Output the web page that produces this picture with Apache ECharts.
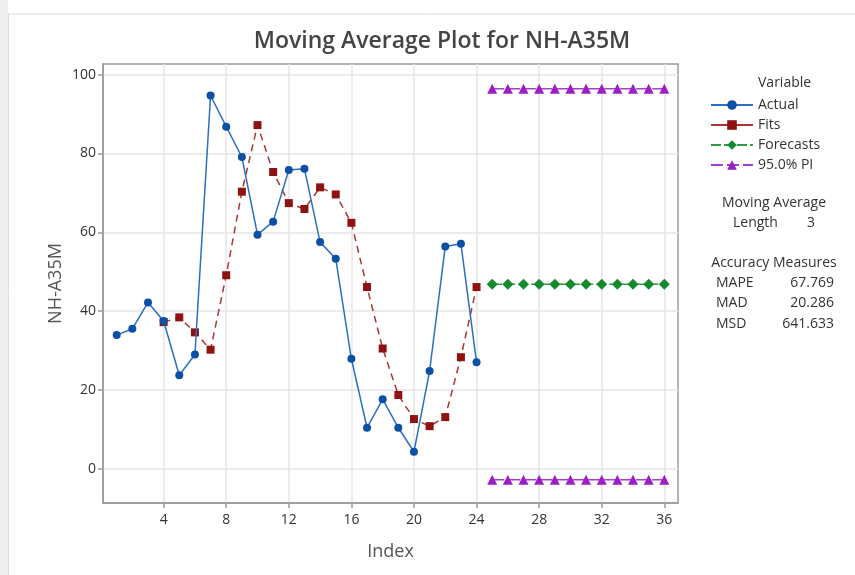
<!DOCTYPE html>
<html><head><meta charset="utf-8">
<script src="https://cdn.jsdelivr.net/npm/echarts@6/dist/echarts.min.js"></script>
<style>html,body{margin:0;padding:0;background:#fff;}#c{width:855px;height:575px;}</style>
</head><body><div id="c"></div>
<script>
// ---- data ----
const actualIndex = [1,2,3,4,5,6,7,8,9,10,11,12,13,14,15,16,17,18,19,20,21,22,23,24];
const actualValues = [33.9,35.5,42.2,37.5,23.7,29.0,94.7,86.8,79.1,59.4,62.7,75.8,76.1,57.5,53.3,27.9,10.4,17.6,10.4,4.3,24.8,56.4,57.1,27.0];
const fitsIndex = [4,5,6,7,8,9,10,11,12,13,14,15,16,17,18,19,20,21,22,23,24];
const fitsValues = [37.2,38.4,34.6,30.2,49.1,70.3,87.2,75.3,67.4,65.9,71.4,69.6,62.4,46.1,30.5,18.7,12.6,10.8,13.1,28.3,46.1];
const forecastIndex = [25,26,27,28,29,30,31,32,33,34,35,36];
const forecastValues = [46.8,46.8,46.8,46.8,46.8,46.8,46.8,46.8,46.8,46.8,46.8,46.8];
const piUpperValues = [96.4,96.4,96.4,96.4,96.4,96.4,96.4,96.4,96.4,96.4,96.4,96.4];
const piLowerValues = [-2.8,-2.8,-2.8,-2.8,-2.8,-2.8,-2.8,-2.8,-2.8,-2.8,-2.8,-2.8];
const xTicks = [4,8,12,16,20,24,28,32,36];
const yTicks = [0,20,40,60,80,100];
const accuracyNames = ['MAPE','MAD','MSD'];
const accuracyValues = ['67.769','20.286','641.633'];
const maLength = '3';

const FONT = "'Open Sans', 'Noto Sans', sans-serif";
const zip = (xs, ys) => xs.map((x, i) => [x, ys[i]]);

const chart = echarts.init(document.getElementById('c'), null, {renderer: 'canvas'});

const graphics = [
  {type: 'rect', shape: {x: 0, y: 0, width: 8, height: 575}, style: {fill: '#eeeeee'}, silent: true, z: -10},
  {type: 'line', shape: {x1: 8, y1: 14, x2: 855, y2: 14}, style: {stroke: '#dddddd', lineWidth: 1}, silent: true},
  {type: 'line', shape: {x1: 8.5, y1: 14, x2: 8.5, y2: 575}, style: {stroke: '#dddddd', lineWidth: 1}, silent: true},
  {type: 'text', x: 758, y: 83, style: {text: 'Variable', font: '14px ' + FONT, fill: '#333', textVerticalAlign: 'middle'}},
  {type: 'text', x: 774, y: 203, style: {text: 'Moving Average', font: '14px ' + FONT, fill: '#333', textAlign: 'center', textVerticalAlign: 'middle'}},
  {type: 'text', x: 733, y: 223, style: {text: 'Length', font: '14px ' + FONT, fill: '#333', textVerticalAlign: 'middle'}},
  {type: 'text', x: 815, y: 223, style: {text: maLength, font: '14px ' + FONT, fill: '#333', textAlign: 'right', textVerticalAlign: 'middle'}},
  {type: 'text', x: 774, y: 263, style: {text: 'Accuracy Measures', font: '14px ' + FONT, fill: '#333', textAlign: 'center', textVerticalAlign: 'middle'}}
];
accuracyNames.forEach((n, i) => {
  const y = 283 + i * 20.5;
  graphics.push({type: 'text', x: 716, y: y, style: {text: n, font: '14px ' + FONT, fill: '#333', textVerticalAlign: 'middle'}});
  graphics.push({type: 'text', x: 834, y: y, style: {text: accuracyValues[i], font: '14px ' + FONT, fill: '#333', textAlign: 'right', textVerticalAlign: 'middle'}});
});

const option = {
  animation: false,
  backgroundColor: '#ffffff',
  title: {
    text: 'Moving Average Plot for NH-A35M',
    left: 437, top: 25, textAlign: 'center',
    textStyle: {fontFamily: FONT, fontSize: 23, fontWeight: 600, color: '#444444'}
  },
  grid: {left: 103, top: 64, right: 177, bottom: 72, show: true, borderColor: '#9a9a9a', borderWidth: 1.5, backgroundColor: 'transparent'},
  xAxis: {
    type: 'value', min: 0.125, max: 36.875,
    name: 'Index', nameLocation: 'middle', nameGap: 40,
    nameTextStyle: {fontFamily: FONT, fontSize: 18, color: '#555'},
    axisLine: {show: true, onZero: false, lineStyle: {color: '#9a9a9a', width: 1.5}},
    axisTick: {show: true, length: 5, customValues: xTicks, lineStyle: {color: '#9a9a9a', width: 1.5}},
    axisLabel: {customValues: xTicks, fontFamily: FONT, fontSize: 14, color: '#333', margin: 10},
    splitLine: {show: true, lineStyle: {color: '#e6e6e6', width: 1.5}}
  },
  yAxis: {
    type: 'value', min: -8.7, max: 102.7,
    name: 'NH-A35M', nameLocation: 'middle', nameGap: 38, nameRotate: 90, nameMoveOverlap: false,
    nameTextStyle: {fontFamily: FONT, fontSize: 18, color: '#555'},
    axisLine: {show: true, onZero: false, lineStyle: {color: '#9a9a9a', width: 1.5}},
    axisTick: {show: true, length: 5, customValues: yTicks, lineStyle: {color: '#9a9a9a', width: 1.5}},
    axisLabel: {customValues: yTicks, fontFamily: FONT, fontSize: 14, color: '#333', margin: 7},
    splitLine: {show: true, lineStyle: {color: '#e6e6e6', width: 1.5}}
  },
  legend: {
    orient: 'vertical', left: 705, top: 93, itemWidth: 42, itemHeight: 12, itemGap: 6,
    selectedMode: false,
    textStyle: {fontFamily: FONT, fontSize: 14, color: '#333', padding: [0, 0, 0, 0]},
    data: [
      {name: 'Actual'},
      {name: 'Fits', lineStyle: {type: 'solid'}},
      {name: 'Forecasts'},
      {name: '95.0% PI'}
    ]
  },
  graphic: graphics,
  series: [
    {
      name: 'Actual', type: 'line', data: zip(actualIndex, actualValues),
      symbol: 'circle', symbolSize: 8, showAllSymbol: true,
      itemStyle: {color: '#0b50a4'},
      lineStyle: {color: '#2a70c2', width: 1.5}, z: 3
    },
    {
      name: 'Fits', type: 'line', data: zip(fitsIndex, fitsValues),
      symbol: 'rect', symbolSize: 8,
      itemStyle: {color: '#8e1212'},
      lineStyle: {color: '#ad3535', width: 1.5, type: [7, 5]}, z: 2
    },
    {
      name: 'Forecasts', type: 'line', data: zip(forecastIndex, forecastValues),
      symbol: 'diamond', symbolSize: 11,
      itemStyle: {color: '#138a2c'},
      lineStyle: {color: '#2c9a40', width: 1.5, type: [10, 3]}, z: 2
    },
    {
      name: '95.0% PI', type: 'line', data: zip(forecastIndex, piUpperValues),
      symbol: 'triangle', symbolSize: 10,
      itemStyle: {color: '#9b1fc4'},
      lineStyle: {color: '#a63fd0', width: 1.5, type: [12, 4]}, z: 2
    },
    {
      name: '95.0% PI', type: 'line', data: zip(forecastIndex, piLowerValues),
      symbol: 'triangle', symbolSize: 10,
      itemStyle: {color: '#9b1fc4'},
      lineStyle: {color: '#a63fd0', width: 1.5, type: [12, 4]}, z: 2
    }
  ]
};
chart.setOption(option);
</script>
</body></html>
